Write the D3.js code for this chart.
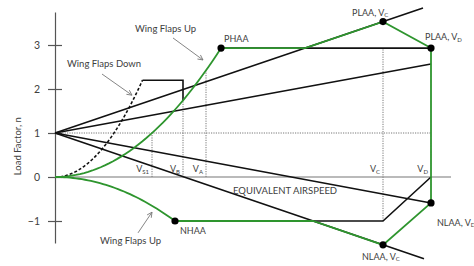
<!DOCTYPE html>
<html>
<head>
<meta charset="utf-8">
<script src="https://cdn.jsdelivr.net/npm/d3@7"></script>
<style>
  body { margin: 0; background: #fff; }
  text { font-family: Lato, "Open Sans", sans-serif; fill: #404040; }
</style>
</head>
<body>
<div id="chart"></div>
<script>
// speeds (equivalent airspeed, arbitrary units) and load factors
var speeds = {VS0: 59, VS1: 97, VB: 128, VA: 151, VC: 328, VD: 376, VSneg: 120};
var nMax = 2.93, nMin = -1, nFlaps = 2.2;
// gust lines from n=1 at v=0 : [end speed, end load factor]
var gustLines = [[368, 3.84], [376, 2.57], [376, -0.59], [369, -1.86]];
var yTicks = [-1, 0, 1, 2, 3];
var speedLabels = [["VS1", "V", "S1"], ["VB", "V", "B"], ["VA", "V", "A"], ["VC", "V", "C"], ["VD", "V", "D"]];

var width = 474, height = 266;
var svg = d3.select("#chart").append("svg")
    .attr("width", width).attr("height", height);

var x = d3.scaleLinear().domain([0, 400]).range([55, 455]);
var y = d3.scaleLinear().domain([-1.5, 3.75]).range([243, 12]);

var green = "#2e952e";
var line = d3.line().x(function(d){ return x(d[0]); }).y(function(d){ return y(d[1]); });

function gustN(i, v) { return 1 + (gustLines[i][1] - 1) * v / gustLines[i][0]; }
function gustV(i, n) { return (n - 1) * gustLines[i][0] / (gustLines[i][1] - 1); }
function curve(vs, v0, v1, sign) {
    var pts = [];
    for (var k = 0; k <= 40; k++) {
        var v = v0 + (v1 - v0) * k / 40;
        pts.push([v, sign * (v / vs) * (v / vs)]);
    }
    return pts;
}

var vPHAA = speeds.VS1 * Math.sqrt(nMax);
var vNHAA = speeds.VSneg;
var vFlaps = speeds.VS0 * Math.sqrt(nFlaps);
var nPLAAc = gustN(0, speeds.VC), nNLAAc = gustN(3, speeds.VC);
var nNLAAd = gustN(2, speeds.VD);

// dotted reference lines
var dotted = [
    [[0, 1], [speeds.VD, 1]],
    [[speeds.VS1, 0], [speeds.VS1, 1]],
    [[speeds.VB, 0], [speeds.VB, Math.pow(speeds.VB / speeds.VS1, 2)]],
    [[speeds.VA, 0], [speeds.VA, Math.pow(speeds.VA / speeds.VS1, 2)]],
    [[speeds.VC, nMin], [speeds.VC, nMax]]
];
svg.selectAll(".dot-line").data(dotted).enter().append("path")
    .attr("d", line).attr("fill", "none")
    .attr("stroke", "#555").attr("stroke-width", 0.8).attr("stroke-dasharray", "1.2,1.2");

// axes
var yAxis = d3.axisLeft(y).tickValues(yTicks).tickFormat(d3.format("d"))
    .tickSizeInner(7).tickSizeOuter(0).tickPadding(8);
var ga = svg.append("g").attr("transform", "translate(" + x(0) + ",0)").call(yAxis);
ga.select(".domain").attr("stroke", "#555").attr("stroke-width", 1.2);
ga.selectAll(".tick line").attr("x1", 7).attr("stroke", "#555").attr("stroke-width", 1.2);
ga.selectAll(".tick text").style("font-size", "10.5px").style("font-family", "Lato, sans-serif").attr("fill", "#404040");

svg.append("path").attr("d", line([[0, 0], [396, 0]]))
    .attr("stroke", "#777").attr("stroke-width", 1.2);

svg.append("text").attr("transform", "translate(21," + y(0.7) + ") rotate(-90)")
    .attr("text-anchor", "middle").style("font-size", "9.5px").text("Load Factor, n");

// gust lines
svg.selectAll(".gust").data(gustLines).enter().append("path")
    .attr("d", function(d){ return line([[0, 1], d]); })
    .attr("stroke", "#111").attr("stroke-width", 1.6).attr("fill", "none");

// black limits
svg.append("path").attr("d", line([[vPHAA, nMax], [speeds.VD, nMax]]))
    .attr("stroke", "#111").attr("stroke-width", 1.6).attr("fill", "none");
svg.append("path").attr("d", line([[vNHAA, nMin], [speeds.VC, nMin], [speeds.VD, 0]]))
    .attr("stroke", "#111").attr("stroke-width", 1.6).attr("fill", "none");

// flaps down
svg.append("path").attr("d", line(curve(speeds.VS0, 0, vFlaps, 1)))
    .attr("stroke", "#111").attr("stroke-width", 1.6).attr("fill", "none").attr("stroke-dasharray", "3,2");
svg.append("path").attr("d", line([[vFlaps, nFlaps], [speeds.VB, nFlaps], [speeds.VB, Math.pow(speeds.VB / speeds.VS1, 2)]]))
    .attr("stroke", "#111").attr("stroke-width", 1.6).attr("fill", "none");

// green envelope
var envelope = curve(speeds.VS1, 0, vPHAA, 1)
    .concat([[gustV(0, nMax), nMax], [speeds.VC, nPLAAc], [speeds.VD, nMax], [speeds.VD, nNLAAd],
             [speeds.VC, nNLAAc], [gustV(3, nMin), nMin]])
    .concat(curve(speeds.VSneg, vNHAA, 0, -1));
svg.append("path").attr("d", line(envelope))
    .attr("stroke", green).attr("stroke-width", 1.8).attr("fill", "none");

// corner points
var corners = [[vPHAA, nMax], [speeds.VC, nPLAAc], [speeds.VD, nMax], [speeds.VD, nNLAAd], [speeds.VC, nNLAAc], [vNHAA, nMin]];
svg.selectAll(".corner").data(corners).enter().append("circle")
    .attr("cx", function(d){ return x(d[0]); }).attr("cy", function(d){ return y(d[1]); })
    .attr("r", 3.6).attr("fill", "#000");

// speed labels on axis
svg.selectAll(".vlab").data(speedLabels).enter().append("text")
    .attr("x", function(d){ return x(speeds[d[0]]) - 3; })
    .attr("y", y(0) - 5)
    .attr("text-anchor", "end").style("font-size", "9px")
    .each(function(d){
        var t = d3.select(this);
        t.append("tspan").text(d[1]);
        t.append("tspan").attr("dy", 1.5).style("font-size", "6px").text(d[2]);
    });

svg.append("text").attr("x", x(178)).attr("y", y(-0.38)).style("font-size", "9.5px").text("EQUIVALENT AIRSPEED");

// point labels: text, subscript, speed, load factor, dx, dy
var pointLabels = [
    ["PHAA", "", vPHAA, nMax, 3, -6],
    ["PLAA, V", "C", speeds.VC, nPLAAc, -31, -6],
    ["PLAA, V", "D", speeds.VD, nMax, -6, -8],
    ["NHAA", "", vNHAA, nMin, 5, 13],
    ["NLAA, V", "D", speeds.VD, nNLAAd, 6, 23],
    ["NLAA, V", "C", speeds.VC, nNLAAc, -21, 15]
];
svg.selectAll(".plab").data(pointLabels).enter().append("text")
    .attr("x", function(d){ return x(d[2]) + d[4]; })
    .attr("y", function(d){ return y(d[3]) + d[5]; })
    .style("font-size", "9px")
    .each(function(d){
        var t = d3.select(this);
        t.append("tspan").text(d[0]);
        if (d[1]) t.append("tspan").attr("dy", 1.5).style("font-size", "6px").text(d[1]);
    });

// annotations: text position and arrow from/to in (speed, load factor)
var notes = [
    ["Wing Flaps Down", 12, 2.5, [47, 2.34], [77, 1.86]],
    ["Wing Flaps Up", 80, 3.3, [118, 3.16], [148, 2.66]],
    ["Wing Flaps Up", 45, -1.53, [83, -1.27], [97, -0.8]]
];
svg.append("defs").append("marker").attr("id", "arr")
    .attr("viewBox", "0 0 10 10").attr("refX", 9).attr("refY", 5)
    .attr("markerWidth", 7).attr("markerHeight", 7).attr("orient", "auto")
    .append("path").attr("d", "M1,1 L9,5 L1,9").attr("fill", "none").attr("stroke", "#777").attr("stroke-width", 1.3);
svg.selectAll(".note").data(notes).enter().append("text")
    .attr("x", function(d){ return x(d[1]); }).attr("y", function(d){ return y(d[2]); })
    .style("font-size", "9.5px").text(function(d){ return d[0]; });
svg.selectAll(".arrow").data(notes).enter().append("path")
    .attr("d", function(d){ return line([d[3], d[4]]); })
    .attr("stroke", "#777").attr("stroke-width", 0.9).attr("marker-end", "url(#arr)");
</script>
</body>
</html>
